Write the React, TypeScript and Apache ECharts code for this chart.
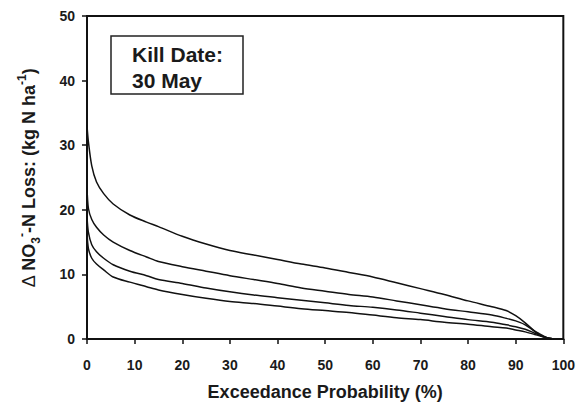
import React, { useEffect, useRef } from "react";
import * as echarts from "echarts";

const xValues = [0, 0.3, 1, 2, 3.5, 5.5, 9, 12.5, 15, 20, 25, 30, 35, 40, 45, 50, 55, 60, 65, 70, 75, 80, 85, 88, 90, 92, 94, 95, 96, 97, 98];
const curve1 = [33, 30.5, 26.8, 24.3, 22.5, 20.9, 19.2, 18.1, 17.4, 15.9, 14.7, 13.7, 13.0, 12.3, 11.6, 11.0, 10.3, 9.6, 8.7, 7.8, 6.9, 5.9, 5.0, 4.4, 3.6, 2.5, 1.2, 0.6, 0.3, 0.1, 0];
const curve2 = [23.5, 20.2, 18.5, 17.3, 16.1, 15.0, 13.7, 12.7, 12.0, 11.2, 10.5, 9.8, 9.2, 8.6, 7.9, 7.4, 6.9, 6.5, 5.9, 5.3, 4.7, 4.2, 3.7, 3.2, 2.8, 2.2, 1.2, 0.8, 0.4, 0.1, 0];
const curve3 = [19, 16.5, 14.6, 13.5, 12.5, 11.5, 10.5, 9.8, 9.2, 8.6, 7.9, 7.3, 6.8, 6.4, 6.0, 5.6, 5.2, 4.9, 4.5, 4.0, 3.5, 3.0, 2.6, 2.2, 1.9, 1.5, 0.9, 0.6, 0.3, 0.1, 0];
const curve4 = [16.5, 14, 12.5, 11.6, 10.7, 9.6, 8.8, 8.1, 7.6, 6.9, 6.3, 5.8, 5.5, 5.1, 4.7, 4.4, 4.1, 3.7, 3.3, 3.0, 2.6, 2.3, 1.9, 1.7, 1.4, 1.1, 0.7, 0.5, 0.3, 0.1, 0];
const curves = [curve1, curve2, curve3, curve4];

const xTitle = "Exceedance Probability (%)";
const boxLines = ["Kill Date:", "30 May"];

const FONT = "'Liberation Sans', Arial, Helvetica, sans-serif";
const INK = "#1a1a1a";

export default function App() {
  const ref = useRef<HTMLDivElement>(null);
  useEffect(() => {
    if (!ref.current) return;
    const chart = echarts.init(ref.current, null, { renderer: "svg" });
    chart.setOption({
      animation: false,
      backgroundColor: "#fff",
      textStyle: { fontFamily: FONT },
      grid: {
        left: 87,
        right: 14,
        top: 16,
        bottom: 65,
        show: true,
        borderColor: "#111",
        borderWidth: 2,
        backgroundColor: "transparent",
      },
      xAxis: {
        type: "value",
        min: 0,
        max: 100,
        interval: 10,
        name: xTitle,
        nameLocation: "middle",
        nameGap: 44,
        nameTextStyle: { fontFamily: FONT, fontWeight: "bold", fontSize: 18, color: INK },
        axisLine: { lineStyle: { color: "#111", width: 2 } },
        axisTick: { show: true, inside: false, length: 5, lineStyle: { color: "#111", width: 1.5 } },
        axisLabel: { fontFamily: FONT, fontWeight: "bold", fontSize: 14, color: INK, margin: 19 },
        splitLine: { show: false },
      },
      yAxis: {
        type: "value",
        min: 0,
        max: 50,
        interval: 10,
        axisLine: { show: true, lineStyle: { color: "#111", width: 2 } },
        axisTick: { show: true, inside: false, length: 5, lineStyle: { color: "#111", width: 1.5 } },
        axisLabel: { fontFamily: FONT, fontWeight: "bold", fontSize: 14, color: INK, margin: 12 },
        splitLine: { show: false },
      },
      graphic: [
        {
          type: "rect",
          shape: { x: 111, y: 36, width: 132, height: 58 },
          style: { fill: "#fff", stroke: "#222", lineWidth: 1.5 },
          z: 10,
        },
        {
          type: "text",
          x: 132,
          y: 54,
          style: { text: boxLines[0], font: `bold 21px ${FONT}`, fill: INK, verticalAlign: "middle" },
          z: 11,
        },
        {
          type: "text",
          x: 132,
          y: 80,
          style: { text: boxLines[1], font: `bold 21px ${FONT}`, fill: INK, verticalAlign: "middle" },
          z: 11,
        },
        {
          type: "text",
          x: 29,
          y: 178,
          rotation: Math.PI / 2,
          style: {
            text: "{d|Δ }{n|NO}{sub|3}{sup|-}{n|-N Loss: (kg N ha}{sup|-1}{n|)}",
            align: "center",
            verticalAlign: "middle",
            fill: INK,
            rich: {
              d: { fontFamily: FONT, fontWeight: "normal", fontSize: 18, lineHeight: 26, fill: INK },
              n: { fontFamily: FONT, fontWeight: "bold", fontSize: 18, lineHeight: 26, fill: INK },
              sub: { fontFamily: FONT, fontWeight: "bold", fontSize: 12, lineHeight: 26, verticalAlign: "bottom", fill: INK },
              sup: { fontFamily: FONT, fontWeight: "bold", fontSize: 12, lineHeight: 12, verticalAlign: "top", fill: INK },
            },
          },
        },
      ],
      series: curves.map((c, i) => ({
        type: "line",
        name: "curve" + (i + 1),
        data: xValues.map((x, j) => [x, c[j]]),
        showSymbol: false,
        smooth: 0.3,
        lineStyle: { color: "#111", width: 1.5 },
      })),
    });
    return () => chart.dispose();
  }, []);
  return <div ref={ref} style={{ width: 578, height: 406, position: "absolute", left: 0, top: 0 }} />;
}
